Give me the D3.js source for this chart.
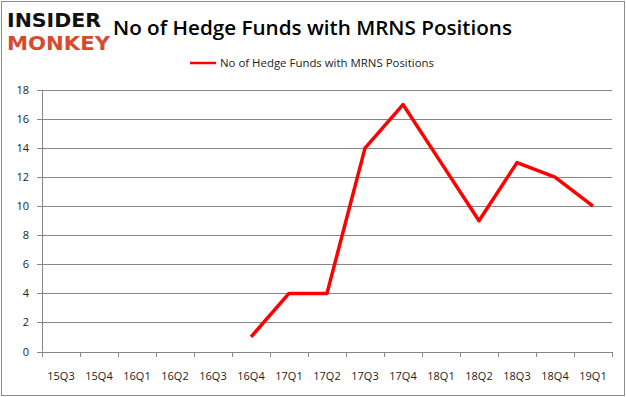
<!DOCTYPE html>
<html>
<head>
<meta charset="utf-8">
<script src="https://cdn.jsdelivr.net/npm/d3@7"></script>
<style>
  body { margin: 0; background: #fff; }
  svg { font-family: "Open Sans", "DejaVu Sans", sans-serif; }
</style>
</head>
<body>
<svg width="626" height="397"></svg>
<script>
var quarters = ["15Q3","15Q4","16Q1","16Q2","16Q3","16Q4","17Q1","17Q2","17Q3","17Q4","18Q1","18Q2","18Q3","18Q4","19Q1"];
var funds = [null,null,null,null,null,1,4,4,14,17,13,9,13,12,10];
var yTicks = [0,2,4,6,8,10,12,14,16,18];
var seriesName = "No of Hedge Funds with MRNS Positions";

var svg = d3.select("svg"),
    width = +svg.attr("width"),
    height = +svg.attr("height"),
    margin = {top: 90, right: 14, bottom: 45, left: 42};

// outer frame
svg.append("rect")
    .attr("x", 1.5).attr("y", 1.5)
    .attr("width", width - 3).attr("height", height - 3)
    .attr("fill", "#fff")
    .attr("stroke", "#8c8c8c");

// logo
svg.append("text").attr("x", 7).attr("y", 27)
    .attr("font-family", "DejaVu Sans").attr("font-weight", "bold")
    .attr("font-size", 19).attr("textLength", 94).attr("lengthAdjust", "spacingAndGlyphs")
    .attr("fill", "#111").text("INSIDER");
svg.append("text").attr("x", 7).attr("y", 50)
    .attr("font-family", "DejaVu Sans").attr("font-weight", "bold")
    .attr("font-size", 19).attr("textLength", 103).attr("lengthAdjust", "spacingAndGlyphs")
    .attr("fill", "#d64a2f").text("MONKEY");

// title
svg.append("text")
    .attr("x", 113).attr("y", 35)
    .attr("font-family", "Open Sans").attr("font-weight", 600)
    .attr("font-size", 20).attr("textLength", 399).attr("lengthAdjust", "spacingAndGlyphs")
    .attr("fill", "#000")
    .text("No of Hedge Funds with MRNS Positions");

// legend
svg.append("line")
    .attr("x1", 190).attr("x2", 216).attr("y1", 63).attr("y2", 63)
    .attr("stroke", "#ff0000").attr("stroke-width", 2.5);
svg.append("text")
    .attr("x", 220).attr("y", 67)
    .attr("font-size", 11).attr("fill", "#222")
    .attr("textLength", 214).attr("lengthAdjust", "spacingAndGlyphs")
    .text(seriesName);

var x = d3.scaleBand().domain(quarters).range([margin.left, width - margin.right]),
    y = d3.scaleLinear().domain([0, 18]).range([height - margin.bottom - 0.5, margin.top]);

var g = svg.append("g");

// gridlines
g.selectAll(".grid")
    .data(yTicks)
    .enter().append("line")
      .attr("x1", margin.left - 5).attr("x2", width - margin.right)
      .attr("y1", function(d) { return Math.round(y(d)) + 0.5; })
      .attr("y2", function(d) { return Math.round(y(d)) + 0.5; })
      .attr("stroke", "#878787").attr("stroke-width", 1);

// y labels
g.selectAll(".ylab")
    .data(yTicks)
    .enter().append("text")
      .attr("x", 29).attr("y", function(d) { return y(d) + 4; })
      .attr("text-anchor", "end").attr("font-size", 11).attr("fill", "#222")
      .text(function(d) { return d; });

// y axis line
g.append("line")
    .attr("x1", margin.left + 0.5).attr("x2", margin.left + 0.5)
    .attr("y1", margin.top).attr("y2", y(0))
    .attr("stroke", "#878787");

// x axis ticks
var xTicks = quarters.map(function(q) { return x(q); }).concat([x.range()[1]]);
g.selectAll(".xtick")
    .data(xTicks)
    .enter().append("line")
      .attr("x1", function(d) { return Math.round(d) + 0.5; })
      .attr("x2", function(d) { return Math.round(d) + 0.5; })
      .attr("y1", Math.round(y(0))).attr("y2", Math.round(y(0)) + 5)
      .attr("stroke", "#878787");

g.selectAll(".xlab")
    .data(quarters)
    .enter().append("text")
      .attr("x", function(d) { return x(d) + x.bandwidth() / 2; })
      .attr("y", 380)
      .attr("text-anchor", "middle").attr("font-size", 11).attr("fill", "#222")
      .text(function(d) { return d; });

// series
var line = d3.line()
    .defined(function(d) { return d != null; })
    .x(function(d, i) { return x(quarters[i]) + x.bandwidth() / 2; })
    .y(function(d) { return y(d); });

g.append("path")
    .datum(funds)
    .attr("d", line)
    .attr("fill", "none")
    .attr("stroke", "#ff0000")
    .attr("stroke-width", 3.5)
    .attr("stroke-linejoin", "round");
</script>
</body>
</html>
